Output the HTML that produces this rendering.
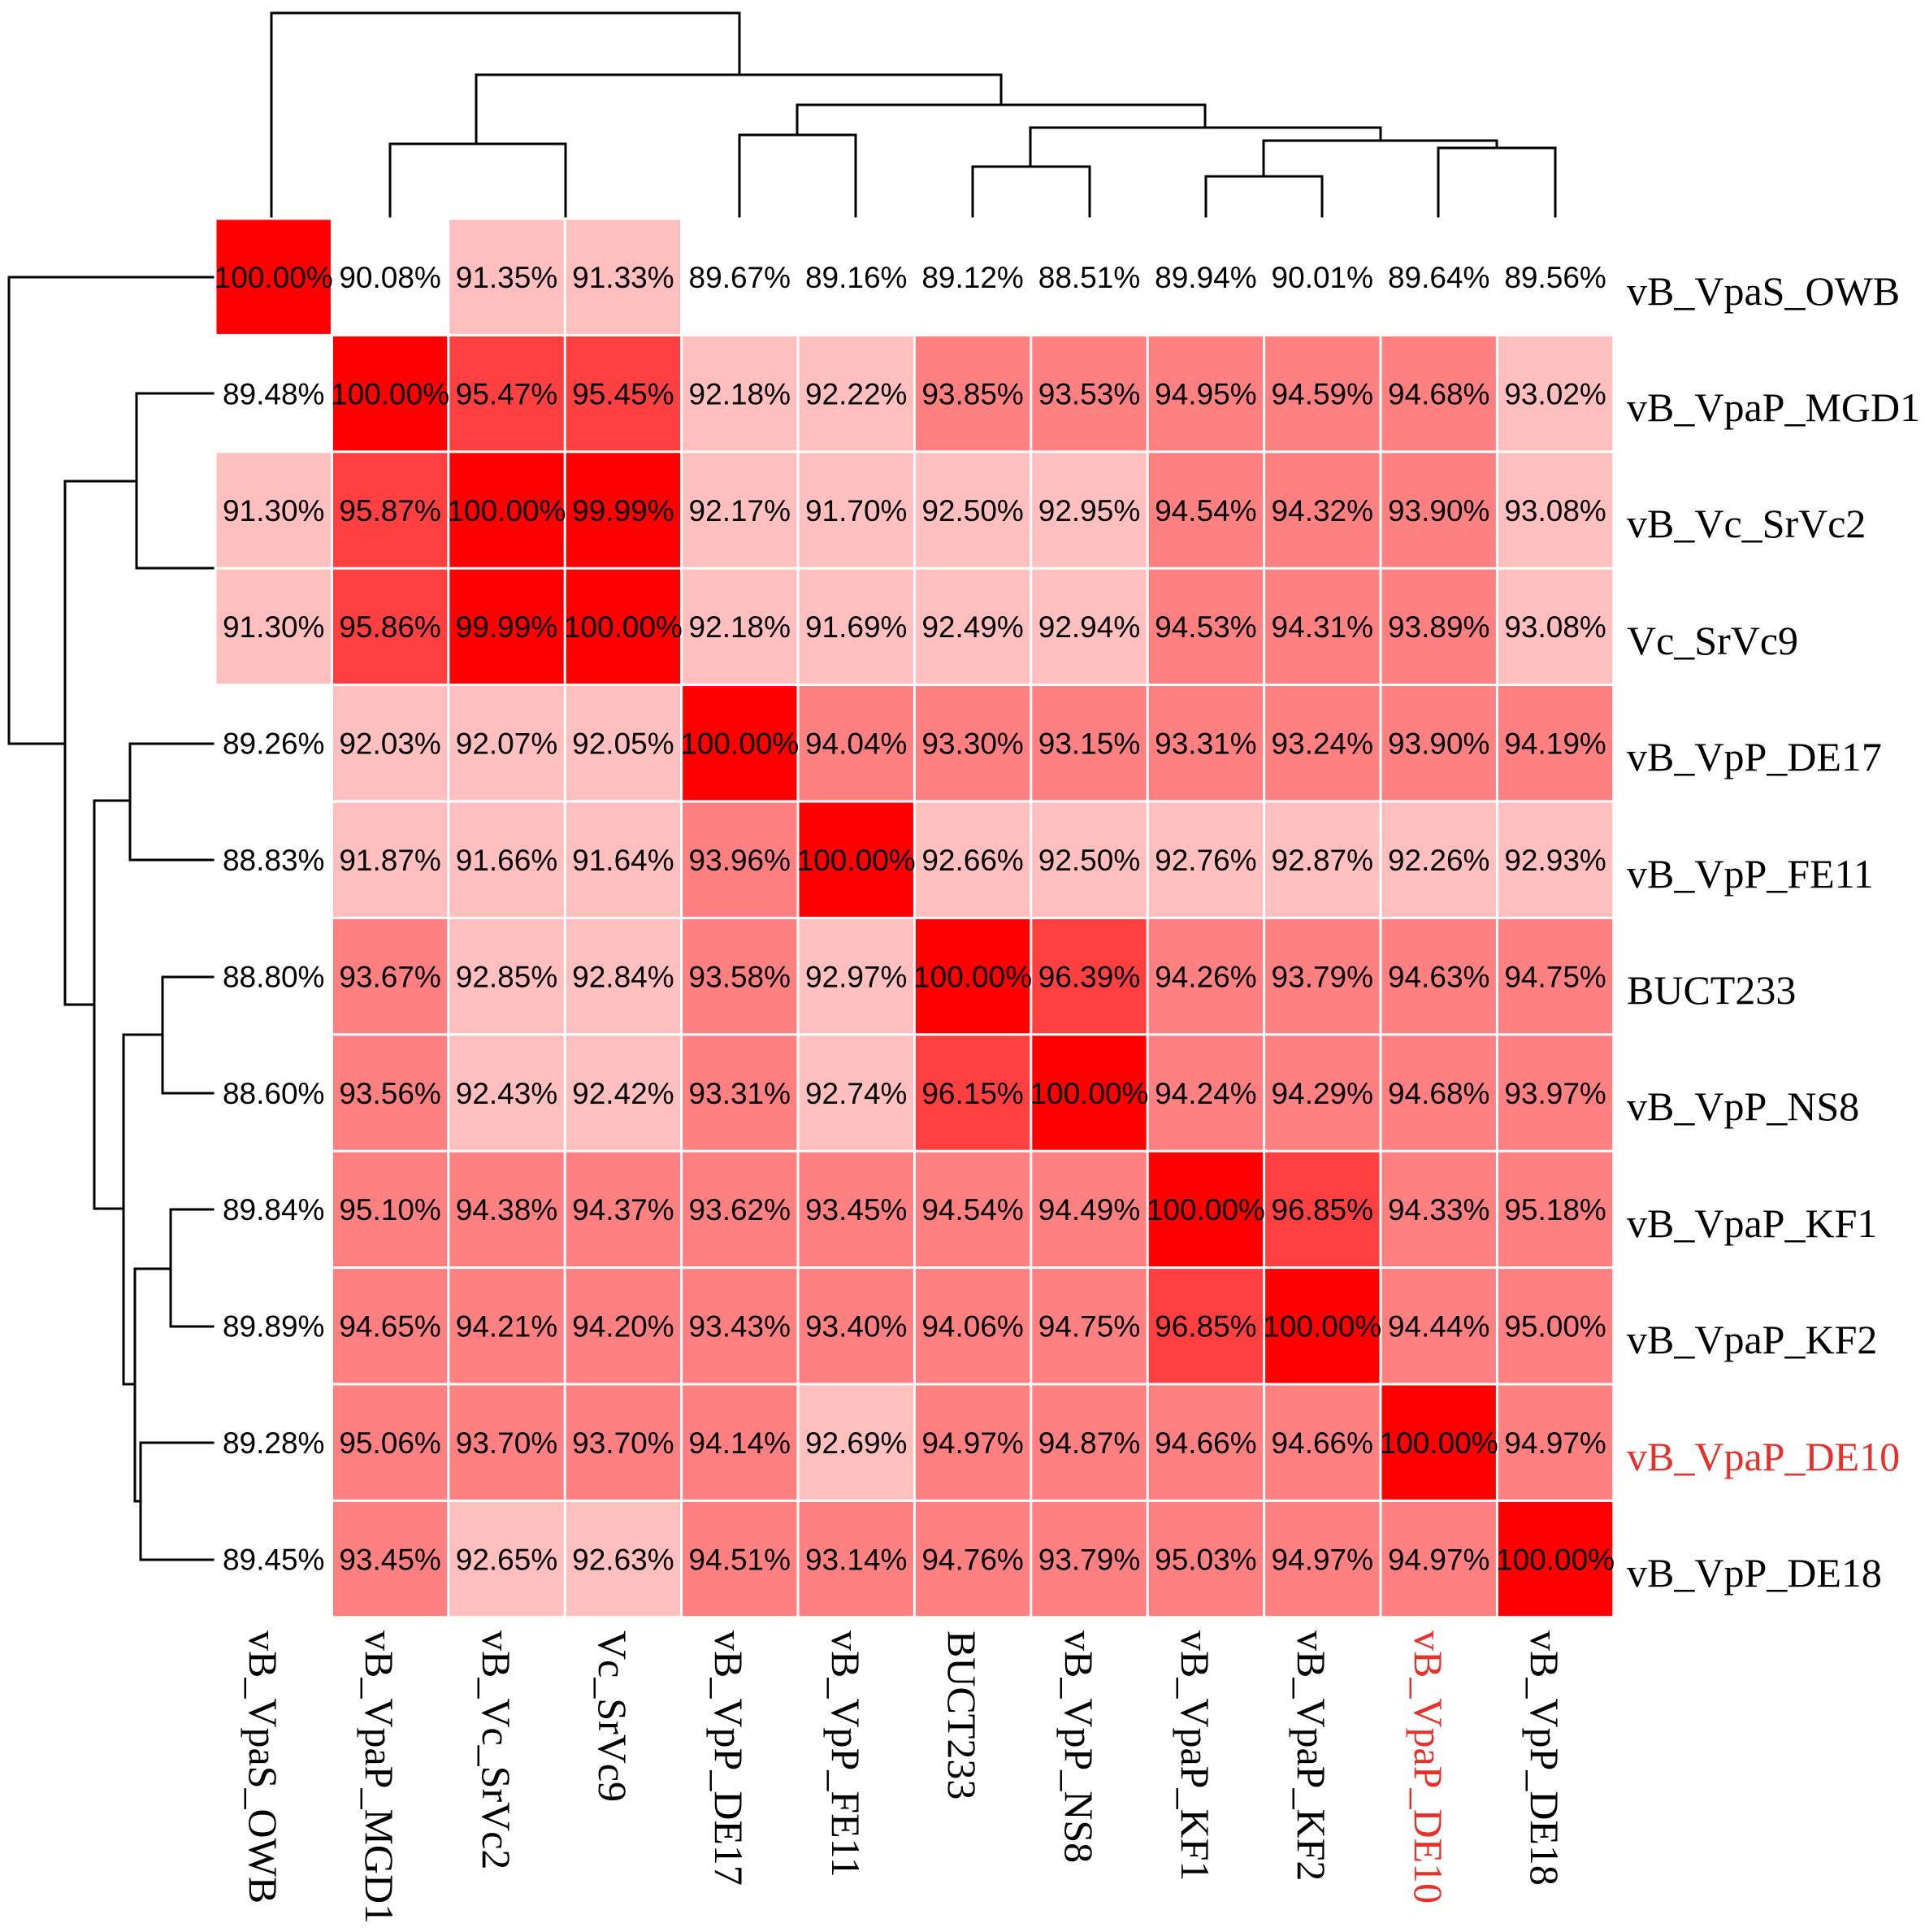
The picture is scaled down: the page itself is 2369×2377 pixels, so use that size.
<!DOCTYPE html>
<html><head><meta charset="utf-8"><style>html,body{margin:0;padding:0;background:#fff}svg{display:block}</style></head>
<body>
<svg width="2369" height="2377" viewBox="0 0 2369 2377" xmlns="http://www.w3.org/2000/svg">
<rect width="2369" height="2377" fill="#fff"/>
<g font-family="Liberation Sans, sans-serif" font-size="37" text-anchor="middle" fill="#000">
<g transform="translate(265,269)">
<rect x="1.5" y="1.5" width="140.4" height="140.4" fill="#ff0000"/><rect x="288.3" y="1.5" width="140.4" height="140.4" fill="#ffbfbf"/><rect x="431.7" y="1.5" width="140.4" height="140.4" fill="#ffbfbf"/>
<text x="71.7" y="85">100.00%</text><text x="215.1" y="85">90.08%</text><text x="358.5" y="85">91.35%</text><text x="501.9" y="85">91.33%</text><text x="645.3" y="85">89.67%</text><text x="788.7" y="85">89.16%</text><text x="932.1" y="85">89.12%</text><text x="1075.5" y="85">88.51%</text><text x="1218.9" y="85">89.94%</text><text x="1362.3" y="85">90.01%</text><text x="1505.7" y="85">89.64%</text><text x="1649.1" y="85">89.56%</text>
</g>
<g transform="translate(265,412.4)">
<rect x="144.9" y="1.5" width="140.4" height="140.4" fill="#ff0000"/><rect x="288.3" y="1.5" width="140.4" height="140.4" fill="#ff4040"/><rect x="431.7" y="1.5" width="140.4" height="140.4" fill="#ff4040"/><rect x="575.1" y="1.5" width="140.4" height="140.4" fill="#ffbfbf"/><rect x="718.5" y="1.5" width="140.4" height="140.4" fill="#ffbfbf"/><rect x="861.9" y="1.5" width="140.4" height="140.4" fill="#ff8080"/><rect x="1005.3" y="1.5" width="140.4" height="140.4" fill="#ff8080"/><rect x="1148.7" y="1.5" width="140.4" height="140.4" fill="#ff8080"/><rect x="1292.1" y="1.5" width="140.4" height="140.4" fill="#ff8080"/><rect x="1435.5" y="1.5" width="140.4" height="140.4" fill="#ff8080"/><rect x="1578.9" y="1.5" width="140.4" height="140.4" fill="#ffbfbf"/>
<text x="71.7" y="85">89.48%</text><text x="215.1" y="85">100.00%</text><text x="358.5" y="85">95.47%</text><text x="501.9" y="85">95.45%</text><text x="645.3" y="85">92.18%</text><text x="788.7" y="85">92.22%</text><text x="932.1" y="85">93.85%</text><text x="1075.5" y="85">93.53%</text><text x="1218.9" y="85">94.95%</text><text x="1362.3" y="85">94.59%</text><text x="1505.7" y="85">94.68%</text><text x="1649.1" y="85">93.02%</text>
</g>
<g transform="translate(265,555.8)">
<rect x="1.5" y="1.5" width="140.4" height="140.4" fill="#ffbfbf"/><rect x="144.9" y="1.5" width="140.4" height="140.4" fill="#ff4040"/><rect x="288.3" y="1.5" width="140.4" height="140.4" fill="#ff0000"/><rect x="431.7" y="1.5" width="140.4" height="140.4" fill="#ff0000"/><rect x="575.1" y="1.5" width="140.4" height="140.4" fill="#ffbfbf"/><rect x="718.5" y="1.5" width="140.4" height="140.4" fill="#ffbfbf"/><rect x="861.9" y="1.5" width="140.4" height="140.4" fill="#ffbfbf"/><rect x="1005.3" y="1.5" width="140.4" height="140.4" fill="#ffbfbf"/><rect x="1148.7" y="1.5" width="140.4" height="140.4" fill="#ff8080"/><rect x="1292.1" y="1.5" width="140.4" height="140.4" fill="#ff8080"/><rect x="1435.5" y="1.5" width="140.4" height="140.4" fill="#ff8080"/><rect x="1578.9" y="1.5" width="140.4" height="140.4" fill="#ffbfbf"/>
<text x="71.7" y="85">91.30%</text><text x="215.1" y="85">95.87%</text><text x="358.5" y="85">100.00%</text><text x="501.9" y="85">99.99%</text><text x="645.3" y="85">92.17%</text><text x="788.7" y="85">91.70%</text><text x="932.1" y="85">92.50%</text><text x="1075.5" y="85">92.95%</text><text x="1218.9" y="85">94.54%</text><text x="1362.3" y="85">94.32%</text><text x="1505.7" y="85">93.90%</text><text x="1649.1" y="85">93.08%</text>
</g>
<g transform="translate(265,699.2)">
<rect x="1.5" y="1.5" width="140.4" height="140.4" fill="#ffbfbf"/><rect x="144.9" y="1.5" width="140.4" height="140.4" fill="#ff4040"/><rect x="288.3" y="1.5" width="140.4" height="140.4" fill="#ff0000"/><rect x="431.7" y="1.5" width="140.4" height="140.4" fill="#ff0000"/><rect x="575.1" y="1.5" width="140.4" height="140.4" fill="#ffbfbf"/><rect x="718.5" y="1.5" width="140.4" height="140.4" fill="#ffbfbf"/><rect x="861.9" y="1.5" width="140.4" height="140.4" fill="#ffbfbf"/><rect x="1005.3" y="1.5" width="140.4" height="140.4" fill="#ffbfbf"/><rect x="1148.7" y="1.5" width="140.4" height="140.4" fill="#ff8080"/><rect x="1292.1" y="1.5" width="140.4" height="140.4" fill="#ff8080"/><rect x="1435.5" y="1.5" width="140.4" height="140.4" fill="#ff8080"/><rect x="1578.9" y="1.5" width="140.4" height="140.4" fill="#ffbfbf"/>
<text x="71.7" y="85">91.30%</text><text x="215.1" y="85">95.86%</text><text x="358.5" y="85">99.99%</text><text x="501.9" y="85">100.00%</text><text x="645.3" y="85">92.18%</text><text x="788.7" y="85">91.69%</text><text x="932.1" y="85">92.49%</text><text x="1075.5" y="85">92.94%</text><text x="1218.9" y="85">94.53%</text><text x="1362.3" y="85">94.31%</text><text x="1505.7" y="85">93.89%</text><text x="1649.1" y="85">93.08%</text>
</g>
<g transform="translate(265,842.6)">
<rect x="144.9" y="1.5" width="140.4" height="140.4" fill="#ffbfbf"/><rect x="288.3" y="1.5" width="140.4" height="140.4" fill="#ffbfbf"/><rect x="431.7" y="1.5" width="140.4" height="140.4" fill="#ffbfbf"/><rect x="575.1" y="1.5" width="140.4" height="140.4" fill="#ff0000"/><rect x="718.5" y="1.5" width="140.4" height="140.4" fill="#ff8080"/><rect x="861.9" y="1.5" width="140.4" height="140.4" fill="#ff8080"/><rect x="1005.3" y="1.5" width="140.4" height="140.4" fill="#ff8080"/><rect x="1148.7" y="1.5" width="140.4" height="140.4" fill="#ff8080"/><rect x="1292.1" y="1.5" width="140.4" height="140.4" fill="#ff8080"/><rect x="1435.5" y="1.5" width="140.4" height="140.4" fill="#ff8080"/><rect x="1578.9" y="1.5" width="140.4" height="140.4" fill="#ff8080"/>
<text x="71.7" y="85">89.26%</text><text x="215.1" y="85">92.03%</text><text x="358.5" y="85">92.07%</text><text x="501.9" y="85">92.05%</text><text x="645.3" y="85">100.00%</text><text x="788.7" y="85">94.04%</text><text x="932.1" y="85">93.30%</text><text x="1075.5" y="85">93.15%</text><text x="1218.9" y="85">93.31%</text><text x="1362.3" y="85">93.24%</text><text x="1505.7" y="85">93.90%</text><text x="1649.1" y="85">94.19%</text>
</g>
<g transform="translate(265,986)">
<rect x="144.9" y="1.5" width="140.4" height="140.4" fill="#ffbfbf"/><rect x="288.3" y="1.5" width="140.4" height="140.4" fill="#ffbfbf"/><rect x="431.7" y="1.5" width="140.4" height="140.4" fill="#ffbfbf"/><rect x="575.1" y="1.5" width="140.4" height="140.4" fill="#ff8080"/><rect x="718.5" y="1.5" width="140.4" height="140.4" fill="#ff0000"/><rect x="861.9" y="1.5" width="140.4" height="140.4" fill="#ffbfbf"/><rect x="1005.3" y="1.5" width="140.4" height="140.4" fill="#ffbfbf"/><rect x="1148.7" y="1.5" width="140.4" height="140.4" fill="#ffbfbf"/><rect x="1292.1" y="1.5" width="140.4" height="140.4" fill="#ffbfbf"/><rect x="1435.5" y="1.5" width="140.4" height="140.4" fill="#ffbfbf"/><rect x="1578.9" y="1.5" width="140.4" height="140.4" fill="#ffbfbf"/>
<text x="71.7" y="85">88.83%</text><text x="215.1" y="85">91.87%</text><text x="358.5" y="85">91.66%</text><text x="501.9" y="85">91.64%</text><text x="645.3" y="85">93.96%</text><text x="788.7" y="85">100.00%</text><text x="932.1" y="85">92.66%</text><text x="1075.5" y="85">92.50%</text><text x="1218.9" y="85">92.76%</text><text x="1362.3" y="85">92.87%</text><text x="1505.7" y="85">92.26%</text><text x="1649.1" y="85">92.93%</text>
</g>
<g transform="translate(265,1129.4)">
<rect x="144.9" y="1.5" width="140.4" height="140.4" fill="#ff8080"/><rect x="288.3" y="1.5" width="140.4" height="140.4" fill="#ffbfbf"/><rect x="431.7" y="1.5" width="140.4" height="140.4" fill="#ffbfbf"/><rect x="575.1" y="1.5" width="140.4" height="140.4" fill="#ff8080"/><rect x="718.5" y="1.5" width="140.4" height="140.4" fill="#ffbfbf"/><rect x="861.9" y="1.5" width="140.4" height="140.4" fill="#ff0000"/><rect x="1005.3" y="1.5" width="140.4" height="140.4" fill="#ff4040"/><rect x="1148.7" y="1.5" width="140.4" height="140.4" fill="#ff8080"/><rect x="1292.1" y="1.5" width="140.4" height="140.4" fill="#ff8080"/><rect x="1435.5" y="1.5" width="140.4" height="140.4" fill="#ff8080"/><rect x="1578.9" y="1.5" width="140.4" height="140.4" fill="#ff8080"/>
<text x="71.7" y="85">88.80%</text><text x="215.1" y="85">93.67%</text><text x="358.5" y="85">92.85%</text><text x="501.9" y="85">92.84%</text><text x="645.3" y="85">93.58%</text><text x="788.7" y="85">92.97%</text><text x="932.1" y="85">100.00%</text><text x="1075.5" y="85">96.39%</text><text x="1218.9" y="85">94.26%</text><text x="1362.3" y="85">93.79%</text><text x="1505.7" y="85">94.63%</text><text x="1649.1" y="85">94.75%</text>
</g>
<g transform="translate(265,1272.8)">
<rect x="144.9" y="1.5" width="140.4" height="140.4" fill="#ff8080"/><rect x="288.3" y="1.5" width="140.4" height="140.4" fill="#ffbfbf"/><rect x="431.7" y="1.5" width="140.4" height="140.4" fill="#ffbfbf"/><rect x="575.1" y="1.5" width="140.4" height="140.4" fill="#ff8080"/><rect x="718.5" y="1.5" width="140.4" height="140.4" fill="#ffbfbf"/><rect x="861.9" y="1.5" width="140.4" height="140.4" fill="#ff4040"/><rect x="1005.3" y="1.5" width="140.4" height="140.4" fill="#ff0000"/><rect x="1148.7" y="1.5" width="140.4" height="140.4" fill="#ff8080"/><rect x="1292.1" y="1.5" width="140.4" height="140.4" fill="#ff8080"/><rect x="1435.5" y="1.5" width="140.4" height="140.4" fill="#ff8080"/><rect x="1578.9" y="1.5" width="140.4" height="140.4" fill="#ff8080"/>
<text x="71.7" y="85">88.60%</text><text x="215.1" y="85">93.56%</text><text x="358.5" y="85">92.43%</text><text x="501.9" y="85">92.42%</text><text x="645.3" y="85">93.31%</text><text x="788.7" y="85">92.74%</text><text x="932.1" y="85">96.15%</text><text x="1075.5" y="85">100.00%</text><text x="1218.9" y="85">94.24%</text><text x="1362.3" y="85">94.29%</text><text x="1505.7" y="85">94.68%</text><text x="1649.1" y="85">93.97%</text>
</g>
<g transform="translate(265,1416.2)">
<rect x="144.9" y="1.5" width="140.4" height="140.4" fill="#ff8080"/><rect x="288.3" y="1.5" width="140.4" height="140.4" fill="#ff8080"/><rect x="431.7" y="1.5" width="140.4" height="140.4" fill="#ff8080"/><rect x="575.1" y="1.5" width="140.4" height="140.4" fill="#ff8080"/><rect x="718.5" y="1.5" width="140.4" height="140.4" fill="#ff8080"/><rect x="861.9" y="1.5" width="140.4" height="140.4" fill="#ff8080"/><rect x="1005.3" y="1.5" width="140.4" height="140.4" fill="#ff8080"/><rect x="1148.7" y="1.5" width="140.4" height="140.4" fill="#ff0000"/><rect x="1292.1" y="1.5" width="140.4" height="140.4" fill="#ff4040"/><rect x="1435.5" y="1.5" width="140.4" height="140.4" fill="#ff8080"/><rect x="1578.9" y="1.5" width="140.4" height="140.4" fill="#ff8080"/>
<text x="71.7" y="85">89.84%</text><text x="215.1" y="85">95.10%</text><text x="358.5" y="85">94.38%</text><text x="501.9" y="85">94.37%</text><text x="645.3" y="85">93.62%</text><text x="788.7" y="85">93.45%</text><text x="932.1" y="85">94.54%</text><text x="1075.5" y="85">94.49%</text><text x="1218.9" y="85">100.00%</text><text x="1362.3" y="85">96.85%</text><text x="1505.7" y="85">94.33%</text><text x="1649.1" y="85">95.18%</text>
</g>
<g transform="translate(265,1559.6)">
<rect x="144.9" y="1.5" width="140.4" height="140.4" fill="#ff8080"/><rect x="288.3" y="1.5" width="140.4" height="140.4" fill="#ff8080"/><rect x="431.7" y="1.5" width="140.4" height="140.4" fill="#ff8080"/><rect x="575.1" y="1.5" width="140.4" height="140.4" fill="#ff8080"/><rect x="718.5" y="1.5" width="140.4" height="140.4" fill="#ff8080"/><rect x="861.9" y="1.5" width="140.4" height="140.4" fill="#ff8080"/><rect x="1005.3" y="1.5" width="140.4" height="140.4" fill="#ff8080"/><rect x="1148.7" y="1.5" width="140.4" height="140.4" fill="#ff4040"/><rect x="1292.1" y="1.5" width="140.4" height="140.4" fill="#ff0000"/><rect x="1435.5" y="1.5" width="140.4" height="140.4" fill="#ff8080"/><rect x="1578.9" y="1.5" width="140.4" height="140.4" fill="#ff8080"/>
<text x="71.7" y="85">89.89%</text><text x="215.1" y="85">94.65%</text><text x="358.5" y="85">94.21%</text><text x="501.9" y="85">94.20%</text><text x="645.3" y="85">93.43%</text><text x="788.7" y="85">93.40%</text><text x="932.1" y="85">94.06%</text><text x="1075.5" y="85">94.75%</text><text x="1218.9" y="85">96.85%</text><text x="1362.3" y="85">100.00%</text><text x="1505.7" y="85">94.44%</text><text x="1649.1" y="85">95.00%</text>
</g>
<g transform="translate(265,1703)">
<rect x="144.9" y="1.5" width="140.4" height="140.4" fill="#ff8080"/><rect x="288.3" y="1.5" width="140.4" height="140.4" fill="#ff8080"/><rect x="431.7" y="1.5" width="140.4" height="140.4" fill="#ff8080"/><rect x="575.1" y="1.5" width="140.4" height="140.4" fill="#ff8080"/><rect x="718.5" y="1.5" width="140.4" height="140.4" fill="#ffbfbf"/><rect x="861.9" y="1.5" width="140.4" height="140.4" fill="#ff8080"/><rect x="1005.3" y="1.5" width="140.4" height="140.4" fill="#ff8080"/><rect x="1148.7" y="1.5" width="140.4" height="140.4" fill="#ff8080"/><rect x="1292.1" y="1.5" width="140.4" height="140.4" fill="#ff8080"/><rect x="1435.5" y="1.5" width="140.4" height="140.4" fill="#ff0000"/><rect x="1578.9" y="1.5" width="140.4" height="140.4" fill="#ff8080"/>
<text x="71.7" y="85">89.28%</text><text x="215.1" y="85">95.06%</text><text x="358.5" y="85">93.70%</text><text x="501.9" y="85">93.70%</text><text x="645.3" y="85">94.14%</text><text x="788.7" y="85">92.69%</text><text x="932.1" y="85">94.97%</text><text x="1075.5" y="85">94.87%</text><text x="1218.9" y="85">94.66%</text><text x="1362.3" y="85">94.66%</text><text x="1505.7" y="85">100.00%</text><text x="1649.1" y="85">94.97%</text>
</g>
<g transform="translate(265,1846.4)">
<rect x="144.9" y="1.5" width="140.4" height="140.4" fill="#ff8080"/><rect x="288.3" y="1.5" width="140.4" height="140.4" fill="#ffbfbf"/><rect x="431.7" y="1.5" width="140.4" height="140.4" fill="#ffbfbf"/><rect x="575.1" y="1.5" width="140.4" height="140.4" fill="#ff8080"/><rect x="718.5" y="1.5" width="140.4" height="140.4" fill="#ff8080"/><rect x="861.9" y="1.5" width="140.4" height="140.4" fill="#ff8080"/><rect x="1005.3" y="1.5" width="140.4" height="140.4" fill="#ff8080"/><rect x="1148.7" y="1.5" width="140.4" height="140.4" fill="#ff8080"/><rect x="1292.1" y="1.5" width="140.4" height="140.4" fill="#ff8080"/><rect x="1435.5" y="1.5" width="140.4" height="140.4" fill="#ff8080"/><rect x="1578.9" y="1.5" width="140.4" height="140.4" fill="#ff0000"/>
<text x="71.7" y="85">89.45%</text><text x="215.1" y="85">93.45%</text><text x="358.5" y="85">92.65%</text><text x="501.9" y="85">92.63%</text><text x="645.3" y="85">94.51%</text><text x="788.7" y="85">93.14%</text><text x="932.1" y="85">94.76%</text><text x="1075.5" y="85">93.79%</text><text x="1218.9" y="85">95.03%</text><text x="1362.3" y="85">94.97%</text><text x="1505.7" y="85">94.97%</text><text x="1649.1" y="85">100.00%</text>
</g>
</g>
<g fill="none" stroke="#000" stroke-width="3" stroke-linecap="square">
<path d="M334 266V16H910V92M586 92H1232M586 92V177M480 266V177H696V266M1232 92V129M981 129H1483M981 129V166M910 266V166H1053V266M1483 129V157M1268 157H1699M1268 157V205M1197 266V205H1341V266M1699 157V173M1555 173H1842M1555 173V217M1484 266V217H1627V266M1842 173V182M1770 266V182H1914V266"/>
<path d="M262 341H11V915H80M80 592V1236H116M80 592H168M262 484H168V699H262M116 985V1487M116 985H160M262 915H160V1058H262M116 1487H152M152 1273V1703M152 1273H200M262 1202H200V1345H262M152 1703H166M166 1561V1847M166 1561H210M262 1488H210V1632H262M166 1847H173M262 1775H173V1919H262"/>
</g>
<g font-family="Liberation Serif, serif" font-size="50" fill="#000">
<text x="2002" y="375">vB_VpaS_OWB</text>
<text x="2002" y="518">vB_VpaP_MGD1</text>
<text x="2002" y="661">vB_Vc_SrVc2</text>
<text x="2002" y="805">Vc_SrVc9</text>
<text x="2002" y="948">vB_VpP_DE17</text>
<text x="2002" y="1092">vB_VpP_FE11</text>
<text x="2002" y="1235">BUCT233</text>
<text x="2002" y="1378">vB_VpP_NS8</text>
<text x="2002" y="1522">vB_VpaP_KF1</text>
<text x="2002" y="1665">vB_VpaP_KF2</text>
<text x="2002" y="1809" fill="#e8302a">vB_VpaP_DE10</text>
<text x="2002" y="1952">vB_VpP_DE18</text>
<text transform="translate(307,2006) rotate(90)">vB_VpaS_OWB</text>
<text transform="translate(450,2006) rotate(90)">vB_VpaP_MGD1</text>
<text transform="translate(594,2006) rotate(90)">vB_Vc_SrVc2</text>
<text transform="translate(737,2006) rotate(90)">Vc_SrVc9</text>
<text transform="translate(880,2006) rotate(90)">vB_VpP_DE17</text>
<text transform="translate(1024,2006) rotate(90)">vB_VpP_FE11</text>
<text transform="translate(1167,2006) rotate(90)">BUCT233</text>
<text transform="translate(1311,2006) rotate(90)">vB_VpP_NS8</text>
<text transform="translate(1454,2006) rotate(90)">vB_VpaP_KF1</text>
<text transform="translate(1597,2006) rotate(90)">vB_VpaP_KF2</text>
<text transform="translate(1741,2006) rotate(90)" fill="#e8302a">vB_VpaP_DE10</text>
<text transform="translate(1884,2006) rotate(90)">vB_VpP_DE18</text>
</g>
</svg>
</body></html>
